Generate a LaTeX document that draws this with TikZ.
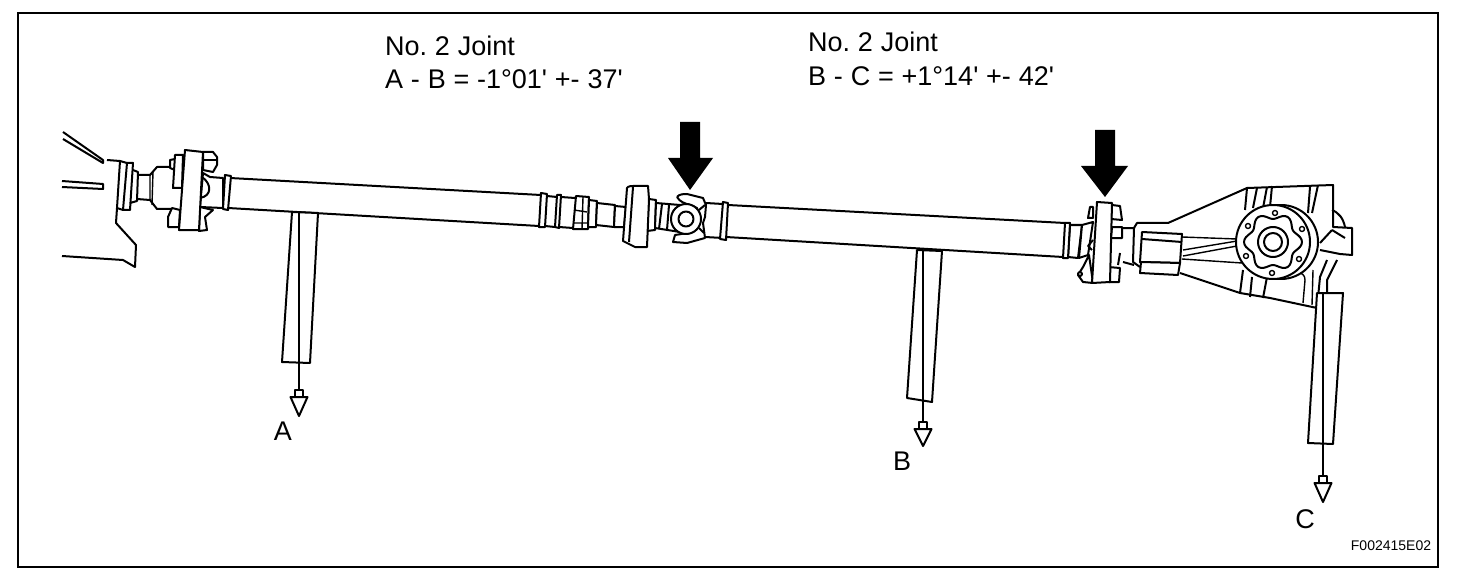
\documentclass[tikz,border=0pt]{standalone}
\usepackage{fontspec}
\setmainfont{Liberation Sans}[Ligatures=TeXOff]
\begin{document}
\begin{tikzpicture}[x=1pt,y=-1pt]
\tikzset{
    part/.style={draw, line width=2pt, line join=round, fill=white},
    edge/.style={line width=2pt, line join=round},
    thin edge/.style={line width=1.4pt, line join=round},
    callout/.style={anchor=north west, inner sep=0pt, align=left, font=\fontsize{27}{33.5}\selectfont, execute at begin node={\spaceskip=7.8pt\relax\xspaceskip=7.8pt\relax}},
    tag/.style={inner sep=0pt, font=\fontsize{27}{32}\selectfont},
    pointer/.style={fill=black, draw=none}
}
\useasboundingbox (0,0) rectangle (1472,588);
\draw[line width=2pt] (18,13) rectangle (1438,567);
% left housing
\draw[edge] (63,132) -- (103,160) -- (103,163) -- (63,139);
\draw[edge] (107,160) -- (120,161) -- (117,208) -- (116,223) -- (136,245) -- (135,267) -- (123,260) -- (62,256);
\draw[edge] (62,181) -- (103,184) -- (103,189) -- (62,187);
\draw[part] (127,163) -- (133,163) -- (130,210) -- (123,210) -- cycle;
\draw[edge] (120,161) -- (127,163) (117,208) -- (123,210);
\draw[edge] (133,170) -- (138,172) -- (137,201) -- (130,203);
\draw[edge] (138,175) -- (150,175) -- (157,167) -- (170,167);
\draw[edge] (137,199) -- (150,200) -- (157,209) -- (172,209);
\draw[thin edge] (150,175) -- (150,200) (153,172) -- (152,205);
% first flange
\draw[part] (170,160) -- (175,159) -- (175,170) -- (170,168) -- cycle;
\draw[part] (168,217) -- (172,208) -- (180,210) -- (179,227) -- (168,227) -- cycle;
\draw[part] (175,155) -- (183,155) -- (182,188) -- (173,188) -- cycle;
\draw[part] (203,152) -- (213,152) -- (217,157) -- (217,165) -- (213,172) -- (203,170) -- cycle;
\draw[edge] (203,160) -- (217,160);
\draw[part] (203,173) -- (210,177) -- (223,178) -- (223,208) -- (200,207) -- cycle;
\draw[edge] (202,177) .. controls (212,184) and (212,196) .. (200,198);
\draw[part] (200,207) -- (213,210) -- (205,217) -- (207,230) -- (199,231) -- cycle;
\draw[part] (185,150) -- (203,152) -- (199,230) -- (179,230) -- cycle;
% first shaft
\draw[edge] (230,178) -- (541,195) (228,208) -- (539,226);
\draw[part] (225,175) -- (231,176) -- (228,210) -- (223,209) -- cycle;
\draw[edge] (547,196) -- (557,197) (545,226) -- (555,227);
\draw[part] (541,193) -- (547,194) -- (545,227) -- (539,227) -- cycle;
\draw[part] (557,195) -- (561,195) -- (559,228) -- (555,227) -- cycle;
\draw[edge] (561,197) -- (575,198) (559,227) -- (573,228);
\draw[part] (576,196) -- (589,197) -- (588,229) -- (573,229) -- cycle;
\draw[thin edge] (583,197) -- (582,229) (574,210) -- (587,212) (574,223) -- (587,223);
\draw[part] (589,200) -- (597,201) -- (596,227) -- (588,227) -- cycle;
\draw[part] (597,203) -- (615,205) -- (614,227) -- (596,225) -- cycle;
\draw[part] (615,206) -- (626,207) -- (624,227) -- (614,227) -- cycle;
% second joint
\draw[part] (649,199) -- (656,200) -- (655,230) -- (647,231) -- cycle;
\draw[part] (627,188) .. controls (628,186) and (632,186) .. (633,186) -- (648,186) -- (649,199) -- (647,247) -- (635,247) -- (623,241) -- cycle;
\draw[edge] (633,187) -- (629,242);
\draw[part] (656,203) -- (680,205) -- (680,232) -- (655,228) -- cycle;
\draw[edge] (662,204) -- (659,229) (669,205) -- (667,230);
\draw[part] (677,197) .. controls (679,194) and (684,194) .. (687,194) -- (703,198) -- (706,205) -- (705,217) -- (703,223) -- (705,238) -- (687,243) -- (673,242) -- (675,235) .. controls (682,234) and (690,233) .. (697,228) -- (697,208) -- (690,205) .. controls (684,203) and (680,202) .. (677,197);
\draw[part] (686,219) circle[radius=15];
\draw[edge] (686,219) circle[radius=7.5];
\draw[edge] (699,210) -- (705,205) (699,228) -- (704,233);
% second shaft
\draw[edge] (706,203) -- (723,204) (705,237) -- (723,238);
\draw[part] (723,202) -- (728,203) -- (726,240) -- (720,239) -- cycle;
\draw[edge] (728,205) -- (1065,223) (726,237) -- (1063,257);
% third joint
\draw[part] (1070,225) -- (1082,225) -- (1078,258) -- (1068,257) -- cycle;
\draw[part] (1065,223) -- (1070,223) -- (1068,258) -- (1063,258) -- cycle;
\draw[part] (1082,225) -- (1093,222) -- (1088,255) -- (1079,258) -- cycle;
\draw[edge] (1093,240) -- (1088,246) -- (1092,250);
\draw[part] (1090,207) -- (1093,207) -- (1093,218) -- (1088,218) -- cycle;
\draw[part] (1112,205) -- (1120,206) -- (1122,220) -- (1111,219) -- cycle;
\draw[part] (1112,227) -- (1122,227) -- (1122,238) -- (1111,238) -- cycle;
\draw[part] (1108,267) -- (1120,268) -- (1119,282) -- (1109,282) -- cycle;
\draw[part] (1089,255) -- (1083,267) -- (1078,275) -- (1083,282) -- (1093,283) -- cycle;
\draw[part] (1080,274) circle[radius=2];
\draw[part] (1097,202) -- (1112,203) -- (1110,282) -- (1092,283) -- cycle;
\draw[edge] (1122,228) -- (1134,228) (1120,253) -- (1118,265) (1123,262) -- (1134,265);
% differential
\draw[edge] (1134,228) -- (1137,223) -- (1168,223) -- (1247,188) -- (1333,185) -- (1333,227) -- (1352,228) -- (1352,255) -- (1340,254);
\draw[edge] (1134,228) -- (1133,262) -- (1140,267);
\draw[edge] (1180,273) -- (1240,293) -- (1270,298) -- (1317,308);
\draw[part] (1142,232) -- (1182,234) -- (1180,263) -- (1140,262) -- cycle;
\draw[edge] (1142,239) -- (1182,242);
\draw[part] (1141,262) -- (1180,263) -- (1178,275) -- (1140,273) -- cycle;
\draw[thin edge] (1182,237) -- (1237,239) (1183,250) -- (1237,241) (1183,256) -- (1237,246) (1182,259) -- (1242,263);
\draw[edge] (1247,188) -- (1245,210) (1257,188) -- (1253,208) (1267,187) -- (1263,208) (1272,186) -- (1270,207);
\draw[edge] (1310,187) -- (1308,213) (1318,185) -- (1312,213);
\draw[edge] (1243,270) -- (1240,293) (1252,277) -- (1250,297) (1267,277) -- (1263,298);
\draw[thin edge] (1280,278) .. controls (1288,274) and (1293,272) .. (1297,272) .. controls (1302,273) and (1305,275) .. (1305,280) -- (1303,303);
\draw[thin edge] (1313,270) -- (1312,305);
\draw[edge] (1332,210) .. controls (1339,213) and (1343,218) .. (1345,227);
\draw[edge] (1337,260) -- (1327,280) -- (1327,292);
\draw[edge] (1332,230) -- (1345,238) (1320,250) -- (1340,254);
\draw[edge] (1320,243) -- (1332,230) (1327,260) -- (1320,277) -- (1317,308);
\draw[part] (1281,242) circle[radius=37];
\draw[part] (1273,242) circle[radius=37];
\begin{scope}[shift={(1273,242)}]
\draw[edge] plot[smooth cycle, samples=72, domain=0:355] (\x:{26+3*cos(6*\x)});
\end{scope}
\draw[edge] (1273,242) circle[radius=15];
\draw[edge] (1273,242) circle[radius=9];
\foreach \hole in {(1275,213),(1302,229),(1299,259),(1272,273),(1246,256),(1248,226)}
{
  \draw[thin edge] \hole circle[radius=2.5];
}
% gauges with plumb bobs
\foreach \ax/\ay/\bx/\by/\cx/\cy/\dx/\dy/\tx/\ty/\ey in {292/212/282/362/310/363/318/213/299/390/416, 917/250/907/398/932/402/942/251/923/422/446, 1317/293/1308/443/1333/444/1343/293/1323/476/502}
{
  \draw[part] (\ax,\ay) -- (\bx,\by) -- (\cx,\cy) -- (\dx,\dy) -- cycle;
  \draw[edge] (\tx,\ay) -- (\tx,\ty);
  \draw[part] (\tx-8.5,\ty+7) -- (\tx+8.5,\ty+7) -- (\tx,\ey) -- cycle;
  \draw[part] (\tx-4,\ty) rectangle (\tx+4,\ty+7);
}
% arrows
\fill[pointer] (680,122) -- (700,122) -- (700,158) -- (713,158) -- (690,190) -- (668,158) -- (680,158) -- cycle;
\fill[pointer] (1095,130) -- (1115,130) -- (1115,166) -- (1128,166) -- (1105,197) -- (1081,166) -- (1095,166) -- cycle;
% labels
\node[callout] (jointab) at (385,35.5) {No. 2 Joint\\A - B = -1°01' +- 37'};
\node[callout] (jointbc) at (808,32) {No. 2 Joint\\B - C = +1°14' +- 42'};
\node[tag] (labela) at (283,431) {A};
\node[tag] (labelb) at (902,461) {B};
\node[tag] (labelc) at (1305,519) {C};
\node[inner sep=0pt, font=\fontsize{14}{16}\selectfont] (figcode) at (1391,546) {F002415E02};
\end{tikzpicture}
\end{document}
